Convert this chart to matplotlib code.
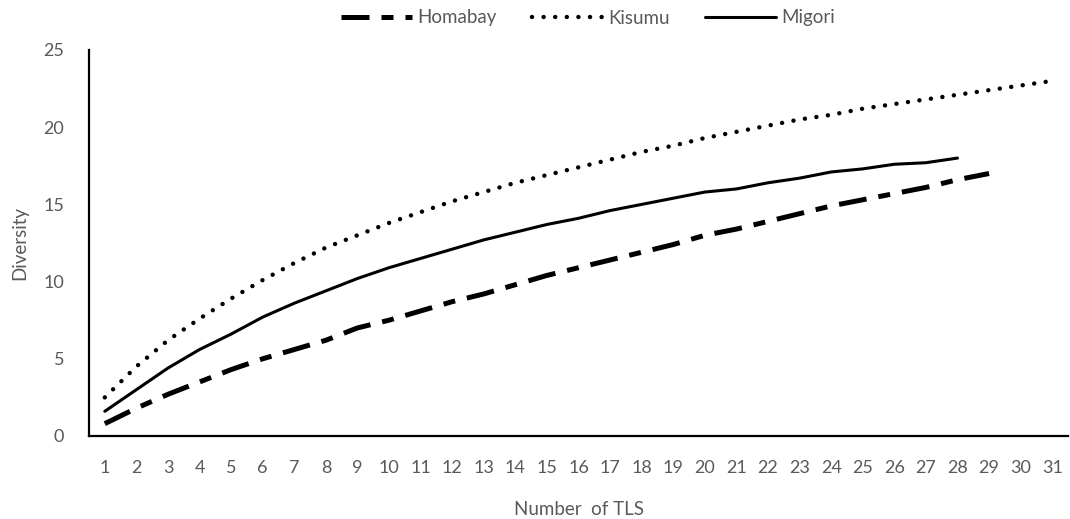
import matplotlib
matplotlib.use("Agg")
import matplotlib.pyplot as plt

plt.rcParams['font.family'] = ['Lato', 'DejaVu Sans']

tls = list(range(1, 32))
homabay = [0.8, 1.8, 2.7, 3.5, 4.3, 5.0, 5.6, 6.2, 7.0, 7.5, 8.1, 8.7, 9.2, 9.8, 10.4,
           10.9, 11.4, 11.9, 12.4, 13.0, 13.4, 13.9, 14.4, 14.9, 15.3, 15.7, 16.1, 16.6, 17.0]
kisumu = [2.5, 4.5, 6.2, 7.6, 8.9, 10.1, 11.2, 12.2, 13.0, 13.8, 14.5, 15.2, 15.8, 16.4, 16.9,
          17.4, 17.9, 18.4, 18.8, 19.3, 19.7, 20.1, 20.5, 20.8, 21.2, 21.5, 21.8, 22.1, 22.4, 22.7, 23.0]
migori = [1.6, 3.0, 4.4, 5.6, 6.6, 7.7, 8.6, 9.4, 10.2, 10.9, 11.5, 12.1, 12.7, 13.2, 13.7,
          14.1, 14.6, 15.0, 15.4, 15.8, 16.0, 16.4, 16.7, 17.1, 17.3, 17.6, 17.7, 18.0]

gray = '#595959'
fig = plt.figure(figsize=(10.7, 5.19), dpi=100)
ax = fig.add_axes([89/1070, 83/519, 979/1070, 386/519])

l1, = ax.plot(tls[:len(homabay)], homabay, color='black', lw=3.6, solid_capstyle='butt',
              dash_capstyle='butt', label='Homabay')
l1.set_dashes((5.6, 2.4, 2.4, 2.4))
l2, = ax.plot(tls[:len(kisumu)], kisumu, color='black', lw=3.2, dash_capstyle='round',
              label='Kisumu')
l2.set_dashes((0.01, 2.6))
l3, = ax.plot(tls[:len(migori)], migori, color='black', lw=2.2, solid_capstyle='round',
              label='Migori')

ax.set_xlim(0.5, 31.5)
ax.set_ylim(0, 25)
ax.set_xticks(tls)
ax.set_xticklabels([str(t) for t in tls])
ax.set_yticks([0, 5, 10, 15, 20, 25])
for s in ['top', 'right']:
    ax.spines[s].set_visible(False)
for s in ['left', 'bottom']:
    ax.spines[s].set_linewidth(1.6)
    ax.spines[s].set_color('black')
ax.tick_params(axis='both', length=0, labelsize=13, labelcolor=gray)
ax.tick_params(axis='x', pad=17)
ax.tick_params(axis='y', pad=18)
ax.set_xlabel('Number  of TLS', fontsize=13.5, color=gray, labelpad=18)
ax.set_ylabel('Diversity', fontsize=13.5, color=gray, labelpad=11)

leg = fig.legend(handles=[l1, l2, l3], loc='center', bbox_to_anchor=(588/1070, 1 - 18/519),
                 ncol=3, frameon=False, fontsize=13.5, handlelength=3.8, handletextpad=0.25,
                 columnspacing=1.9, labelcolor=gray)

fig.savefig('out.png', dpi=100)
